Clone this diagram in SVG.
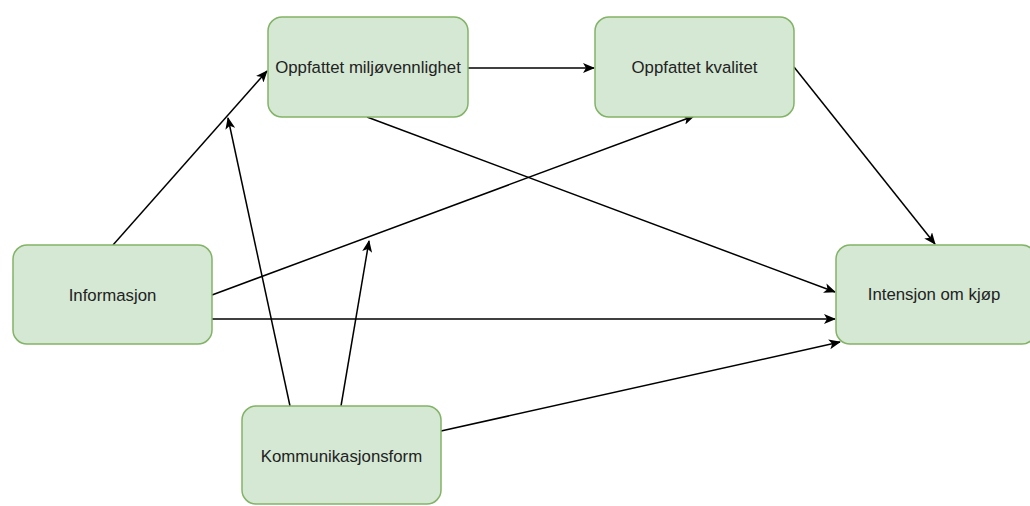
<svg xmlns="http://www.w3.org/2000/svg" width="1030" height="506" viewBox="0 0 1030 506">
  <style>
    .node rect { fill: #d5e8d4; stroke: #82b366; stroke-width: 1.5; }
    .node text { font-family: "Liberation Sans", Arial, sans-serif; font-size: 16.8px; fill: #222; text-anchor: middle; dominant-baseline: central; }
    .edge { stroke: #000; stroke-width: 1.5; fill: none; marker-end: url(#arrow); }
  </style>
  <defs>
    <marker id="arrow" viewBox="0 0 12 10" refX="11" refY="5" markerWidth="12" markerHeight="10" markerUnits="userSpaceOnUse" orient="auto">
      <path d="M0,0 L12,5 L0,10 L3,5 z" fill="#000"/>
    </marker>
  </defs>
  <rect width="1030" height="506" fill="#fff"/>

  <g id="connectors">
    <line class="edge" x1="113" y1="245" x2="267" y2="71"/>
    <line class="edge" x1="468" y1="68" x2="594" y2="68"/>
    <line class="edge" x1="367" y1="117" x2="835" y2="292"/>
    <line class="edge" x1="794" y1="67" x2="935" y2="244"/>
    <line class="edge" x1="212" y1="295" x2="694" y2="116"/>
    <line class="edge" x1="212" y1="319" x2="835" y2="319"/>
    <line class="edge" x1="290" y1="406" x2="228" y2="118"/>
    <line class="edge" x1="341" y1="406" x2="369" y2="241"/>
    <line class="edge" x1="441" y1="431" x2="840" y2="342"/>
  </g>

  <g id="miljo" class="node">
    <rect x="268" y="17" width="200" height="100" rx="14"/>
    <text x="368" y="67">Oppfattet miljøvennlighet</text>
  </g>
  <g id="kvalitet" class="node">
    <rect x="595" y="17" width="199" height="100" rx="14"/>
    <text x="694.5" y="67">Oppfattet kvalitet</text>
  </g>
  <g id="informasjon" class="node">
    <rect x="13" y="245" width="199" height="99" rx="14"/>
    <text x="112.5" y="295">Informasjon</text>
  </g>
  <g id="intensjon" class="node">
    <rect x="836" y="245" width="200" height="99" rx="14"/>
    <text x="934" y="294">Intensjon om kjøp</text>
  </g>
  <g id="kommunikasjon" class="node">
    <rect x="242" y="406" width="199" height="98" rx="14"/>
    <text x="341.5" y="456">Kommunikasjonsform</text>
  </g>
</svg>
